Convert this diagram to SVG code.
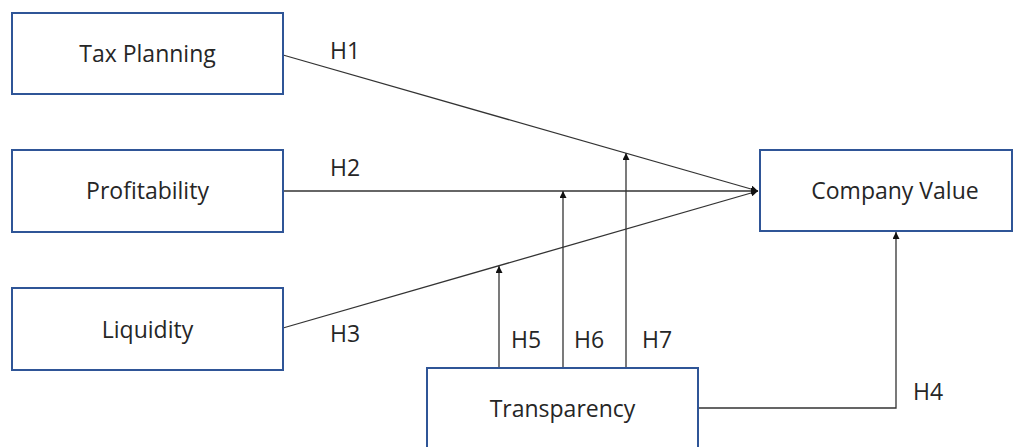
<svg xmlns="http://www.w3.org/2000/svg" width="1019" height="447" viewBox="0 0 1019 447">
<style>
.box{fill:#fff;stroke:#2F5597;stroke-width:2}
.lbl{font-family:"Open Sans","Liberation Sans",sans-serif;font-size:23px;fill:#262626;text-anchor:middle}
.h{font-family:"Open Sans","Liberation Sans",sans-serif;font-size:23px;fill:#262626}
.ln{fill:none;stroke:#333;stroke-width:1.3}
</style>
<defs>
<marker id="ah" viewBox="0 0 10 10" refX="10" refY="5" markerWidth="7" markerHeight="7" orient="auto" markerUnits="userSpaceOnUse">
<path d="M0,0 L10,5 L0,10 z" fill="#111"/>
</marker>
</defs>
<rect width="1019" height="447" fill="#fff"/>
<g id="connectors">
<line class="ln" x1="283" y1="55" x2="758" y2="191" marker-end="url(#ah)"/>
<line class="ln" x1="283" y1="191" x2="758" y2="191" marker-end="url(#ah)"/>
<line class="ln" x1="283" y1="328" x2="758" y2="191" marker-end="url(#ah)"/>
<line class="ln" x1="499" y1="368" x2="499" y2="266" marker-end="url(#ah)"/>
<line class="ln" x1="563" y1="368" x2="563" y2="191" marker-end="url(#ah)"/>
<line class="ln" x1="626" y1="368" x2="626" y2="153" marker-end="url(#ah)"/>
<polyline class="ln" points="698,408 896,408 896,232" marker-end="url(#ah)"/>
<text class="h" x="330" y="59">H1</text>
<text class="h" x="330" y="176">H2</text>
<text class="h" x="330" y="342">H3</text>
<text class="h" x="511" y="348">H5</text>
<text class="h" x="574" y="348">H6</text>
<text class="h" x="642" y="348">H7</text>
<text class="h" x="913" y="400">H4</text>
</g>
<g id="tax"><rect class="box" x="12" y="13" width="271" height="81"/><text class="lbl" x="147.5" y="62">Tax Planning</text></g>
<g id="profit"><rect class="box" x="12" y="150" width="271" height="82"/><text class="lbl" x="147.5" y="199">Profitability</text></g>
<g id="liquid"><rect class="box" x="12" y="288" width="271" height="82"/><text class="lbl" x="147.5" y="338">Liquidity</text></g>
<g id="company"><rect class="box" x="760" y="150" width="252" height="81"/><text class="lbl" x="895" y="199">Company Value</text></g>
<g id="transparency"><rect class="box" x="427" y="368" width="271" height="90"/><text class="lbl" x="562.5" y="417">Transparency</text></g>
</svg>
